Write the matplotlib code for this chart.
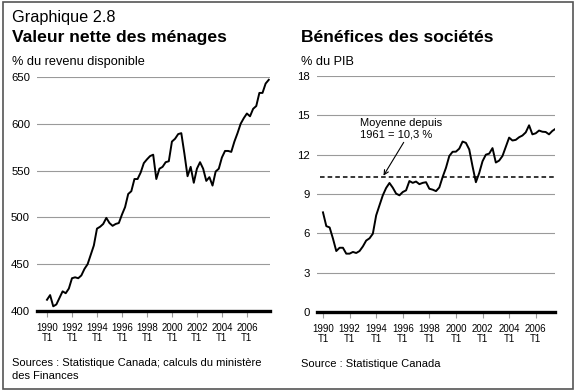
import numpy as np
import matplotlib.pyplot as plt

plt.rcParams['font.family'] = ['Liberation Sans', 'DejaVu Sans']

# Valeur nette des ménages, % du revenu disponible, trimestriel 1990T1-2007T4
menages = [412, 417, 405, 407, 414, 421, 419, 424, 435, 436, 435, 438,
           445, 450, 460, 470, 488, 490, 493, 499.5, 494, 491, 493, 494,
           503, 511, 525, 528, 541, 541, 548, 558, 562, 565.5, 567, 541,
           552, 554, 559, 560, 581, 584, 589, 590, 568, 544, 554, 537,
           552, 559, 552, 539, 543, 534, 549, 552, 564, 571, 571, 570,
           581, 590, 600, 606, 611, 608, 616, 619, 633, 633, 643, 647]

# Bénéfices des sociétés, % du PIB, trimestriel 1990T1-2007T3
benefices = [7.6, 6.55, 6.45, 5.6, 4.65, 4.9, 4.9, 4.45, 4.45, 4.58, 4.5, 4.65,
             5.0, 5.45, 5.62, 5.97, 7.37, 8.14, 8.9, 9.46, 9.84, 9.48, 9.03, 8.9,
             9.15, 9.28, 9.99, 9.85, 9.95, 9.75, 9.85, 9.9, 9.4, 9.33, 9.22, 9.5,
             10.3, 11.0, 11.9, 12.22, 12.23, 12.46, 13.0, 12.9, 12.4, 11.1, 9.9, 10.6,
             11.5, 12.0, 12.08, 12.5, 11.4, 11.55, 11.9, 12.6, 13.3, 13.08, 13.13, 13.33,
             13.46, 13.7, 14.24, 13.55, 13.63, 13.84, 13.75, 13.73, 13.55, 13.81, 13.98]
moyenne = 10.3

years_ticks = list(range(1990, 2007, 2))
tick_labels = [f"{y}\nT1" for y in years_ticks]

W, H = 575, 391
fig = plt.figure(figsize=(W / 100, H / 100), dpi=100)


def ax_at(x0, x1, ytop, ybot):
    return fig.add_axes([x0 / W, 1 - ybot / H, (x1 - x0) / W, (ybot - ytop) / H])


def style(ax, yticks):
    for s in ax.spines.values():
        s.set_visible(False)
    ax.set_yticks(yticks)
    ax.yaxis.grid(True, color='#9a9a9a', lw=0.8)
    ax.set_axisbelow(True)
    ax.tick_params(axis='y', length=0, labelsize=8.2, pad=5)
    ax.set_xticks(years_ticks)
    ax.set_xticklabels(tick_labels, fontsize=7, linespacing=1.0)
    ax.tick_params(axis='x', length=4.5, color='#9a9a9a', width=0.8, pad=4)
    ax.axhline(yticks[0], color='black', lw=2.4, zorder=3, clip_on=False)


# left chart
ax1 = ax_at(37, 270, 77, 311)
x1 = 1990 + np.arange(len(menages)) / 4
ax1.plot(x1, menages, color='black', lw=1.4)
ax1.set_xlim(1989.2, 2007.85)
ax1.set_ylim(400, 650)
style(ax1, [400, 450, 500, 550, 600, 650])

# right chart
ax2 = ax_at(317, 555, 76, 312)
x2 = 1990 + np.arange(len(benefices)) / 4
ax2.plot(x2, benefices, color='black', lw=1.4, zorder=4)
ax2.plot([1989.8, 2007.4], [moyenne, moyenne], color='black', lw=1.1, ls=(0, (3, 2)))
ax2.set_xlim(1989.55, 2007.45)
ax2.set_ylim(0, 18)
style(ax2, [0, 3, 6, 9, 12, 15, 18])
ax2.annotate("Moyenne depuis\n1961 = 10,3 %", xy=(1994.55, moyenne + 0.1),
             xytext=(1992.8, 13.15), fontsize=8, ha='left', va='bottom',
             linespacing=1.2,
             arrowprops=dict(arrowstyle='->', color='black', lw=0.8,
                             shrinkA=0, shrinkB=0, relpos=(0.55, 0)))

# texts
fig.text(12 / W, 1 - 22 / H, "Graphique 2.8", fontsize=11.7, va='baseline')
fig.text(12 / W, 1 - 42 / H, "Valeur nette des ménages", fontsize=12.6,
         fontweight='bold', va='baseline')
fig.text(301 / W, 1 - 42 / H, "Bénéfices des sociétés", fontsize=12.6,
         fontweight='bold', va='baseline')
fig.text(12 / W, 1 - 65 / H, "% du revenu disponible", fontsize=9.2, va='baseline')
fig.text(301 / W, 1 - 65 / H, "% du PIB", fontsize=9.2, va='baseline')
fig.text(12 / W, 1 - 366 / H, "Sources : Statistique Canada; calculs du ministère",
         fontsize=8, va='baseline')
fig.text(12 / W, 1 - 379 / H, "des Finances", fontsize=8, va='baseline')
fig.text(301 / W, 1 - 367 / H, "Source : Statistique Canada", fontsize=8, va='baseline')

# outer frame
fig.patches.append(plt.Rectangle((2.5 / W, 2.5 / H), 1 - 5 / W, 1 - 4.5 / H,
                                 transform=fig.transFigure, fill=False,
                                 edgecolor='#555555', lw=1.2))

fig.savefig('out.png', dpi=100)
